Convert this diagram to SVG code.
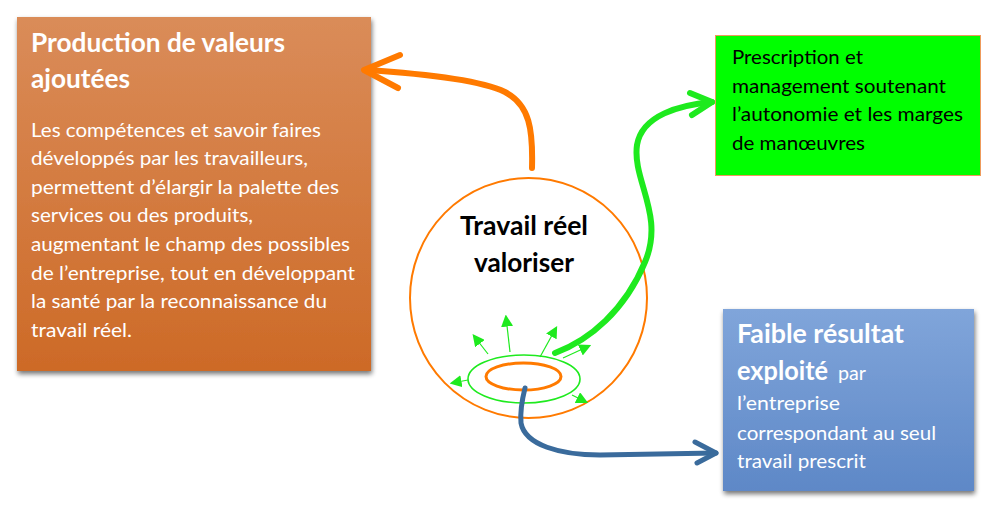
<svg xmlns="http://www.w3.org/2000/svg" width="999" height="506" viewBox="0 0 999 506">
<style>
text{font-family:Lato,"Carlito","Liberation Sans",sans-serif}
.wt{fill:#fff;font-size:20px}
.wb{fill:#fff;font-weight:bold}
.bk{fill:#000;font-size:20px}
.conn{fill:none;stroke-linecap:round;stroke-linejoin:round}
</style>
<defs>
<linearGradient id="gO" x1="0" y1="0" x2="0" y2="1">
<stop offset="0" stop-color="#DA8C59"/>
<stop offset="1" stop-color="#CD6A27"/>
</linearGradient>
<linearGradient id="gB" x1="0" y1="0" x2="0" y2="1">
<stop offset="0" stop-color="#80A5DA"/>
<stop offset="1" stop-color="#5E88C7"/>
</linearGradient>
<filter id="sh" x="-10%" y="-10%" width="130%" height="130%">
<feGaussianBlur in="SourceAlpha" stdDeviation="2.5"/>
<feOffset dx="1" dy="3" result="b"/>
<feComponentTransfer><feFuncA type="linear" slope="0.55"/></feComponentTransfer>
<feMerge><feMergeNode/><feMergeNode in="SourceGraphic"/></feMerge>
</filter>
<marker id="ga" viewBox="0 0 10 10" refX="8" refY="5" markerWidth="12" markerHeight="12" markerUnits="userSpaceOnUse" orient="auto">
<path d="M0,0 L10,5 L0,10 Z" fill="#1EEA1E"/>
</marker>
</defs>

<g id="production">
<rect x="17" y="17" width="354" height="354" fill="url(#gO)" filter="url(#sh)"/>
<text class="wb" x="31" y="52" font-size="26" textLength="254" lengthAdjust="spacingAndGlyphs">Production de valeurs</text>
<text class="wb" x="31" y="88" font-size="26" textLength="99" lengthAdjust="spacingAndGlyphs">ajoutées</text>
<text class="wt" x="31" y="137" textLength="290" lengthAdjust="spacingAndGlyphs">Les compétences et savoir faires</text>
<text class="wt" x="31" y="165" textLength="277" lengthAdjust="spacingAndGlyphs">développés par les travailleurs,</text>
<text class="wt" x="31" y="194" textLength="308" lengthAdjust="spacingAndGlyphs">permettent d’élargir la palette des</text>
<text class="wt" x="31" y="222" textLength="222" lengthAdjust="spacingAndGlyphs">services ou des produits,</text>
<text class="wt" x="31" y="251" textLength="319" lengthAdjust="spacingAndGlyphs">augmentant le champ des possibles</text>
<text class="wt" x="31" y="280" textLength="324" lengthAdjust="spacingAndGlyphs">de l’entreprise, tout en développant</text>
<text class="wt" x="31" y="308" textLength="296" lengthAdjust="spacingAndGlyphs">la santé par la reconnaissance du</text>
<text class="wt" x="31" y="337" textLength="101" lengthAdjust="spacingAndGlyphs">travail réel.</text>
</g>

<g id="prescription">
<rect x="715.5" y="35.5" width="265" height="140" fill="#00FF00" stroke="#EE9A5C" stroke-width="1"/>
<text class="bk" x="732" y="64" textLength="131" lengthAdjust="spacingAndGlyphs">Prescription et</text>
<text class="bk" x="732" y="93" textLength="214" lengthAdjust="spacingAndGlyphs">management soutenant</text>
<text class="bk" x="732" y="121" textLength="231" lengthAdjust="spacingAndGlyphs">l’autonomie et les marges</text>
<text class="bk" x="732" y="150" textLength="133" lengthAdjust="spacingAndGlyphs">de manœuvres</text>
</g>

<g id="faible">
<rect x="723" y="309" width="251" height="182" fill="url(#gB)" filter="url(#sh)"/>
<text class="wb" x="737" y="343" font-size="26.5" textLength="167" lengthAdjust="spacingAndGlyphs">Faible résultat</text>
<text class="wb" x="737" y="380" font-size="26.5" textLength="91" lengthAdjust="spacingAndGlyphs">exploité</text>
<text class="wt" x="838" y="380" textLength="28" lengthAdjust="spacingAndGlyphs">par</text>
<text class="wt" x="737" y="410" textLength="103" lengthAdjust="spacingAndGlyphs">l’entreprise</text>
<text class="wt" x="737" y="440" textLength="199" lengthAdjust="spacingAndGlyphs">correspondant au seul</text>
<text class="wt" x="737" y="468" textLength="129" lengthAdjust="spacingAndGlyphs">travail prescrit</text>
</g>

<g id="travail">
<ellipse cx="528.5" cy="298" rx="118.5" ry="120" fill="#fff" stroke="#FF7A00" stroke-width="2"/>
<text x="460" y="235" font-size="26.5" font-weight="bold" fill="#000" textLength="128" lengthAdjust="spacingAndGlyphs">Travail réel</text>
<text x="474" y="272" font-size="26.5" font-weight="bold" fill="#000" textLength="100" lengthAdjust="spacingAndGlyphs">valoriser</text>
<ellipse cx="524" cy="379" rx="56" ry="24" fill="none" stroke="#1EEA1E" stroke-width="1.6"/>
<ellipse cx="523.5" cy="376.5" rx="37.5" ry="13.5" fill="none" stroke="#FF7A00" stroke-width="3"/>
<g stroke="#1EEA1E" stroke-width="1.2">
<line x1="488" y1="354" x2="474" y2="336" marker-end="url(#ga)"/>
<line x1="510" y1="352" x2="506" y2="317" marker-end="url(#ga)"/>
<line x1="540" y1="357" x2="556" y2="328" marker-end="url(#ga)"/>
<line x1="563" y1="358" x2="589" y2="346" marker-end="url(#ga)"/>
<line x1="468" y1="380" x2="452" y2="383" marker-end="url(#ga)"/>
<line x1="572" y1="395" x2="586" y2="402" marker-end="url(#ga)"/>
</g>
</g>

<g id="connectors">
<path class="conn" d="M532,168 C533,130 530,105 505,92 C480,80 430,74 365,70" stroke="#FF7A00" stroke-width="6"/>
<path class="conn" d="M400,55 L364,70 L398,88" stroke="#FF7A00" stroke-width="6"/>
<path class="conn" d="M555,353 C590,340 625,310 645,262 C665,215 632,180 637,145 C642,115 680,105 712,102" stroke="#1EEA1E" stroke-width="6"/>
<path class="conn" d="M690,93 L712,102 L692,115" stroke="#1EEA1E" stroke-width="6"/>
<path class="conn" d="M525,388 C522,400 520,412 521,423 C525,445 560,455 600,455 L716,453" stroke="#3A6B9C" stroke-width="5"/>
<path class="conn" d="M695,442 L716,453 L697,463" stroke="#3A6B9C" stroke-width="5"/>
</g>
</svg>
